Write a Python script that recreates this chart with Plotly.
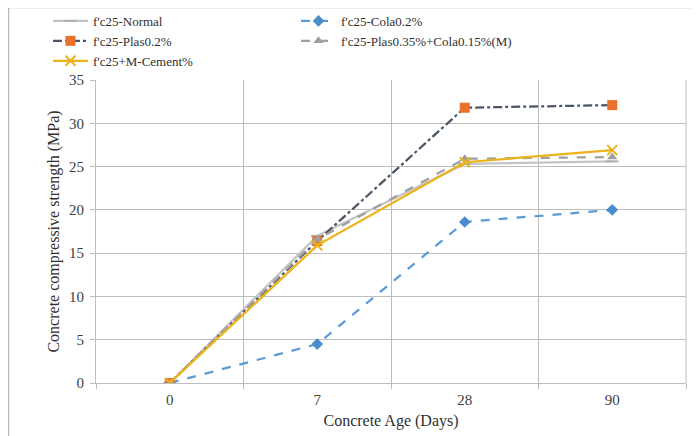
import plotly.graph_objects as go

ages = ["0", "7", "28", "90"]
normal = [0, 17.0, 25.3, 25.6]
cola = [0, 4.5, 18.6, 20.0]
plas = [0, 16.4, 31.8, 32.1]
plas_cola = [0, 16.6, 25.9, 26.1]
m_cement = [0, 15.9, 25.5, 26.9]

names = ["f'c25-Normal", "f'c25-Cola0.2%", "f'c25-Plas0.2%",
         "f'c25-Plas0.35%+Cola0.15%(M)", "f'c25+M-Cement%"]

fig = go.Figure()
fig.add_trace(go.Scatter(x=ages, y=normal, name=names[0], mode="lines+markers",
                         line=dict(color="#c4c4c4", width=2.25),
                         marker=dict(symbol="line-ew-open", size=9, color="#b0b0b0",
                                     line=dict(color="#b0b0b0", width=2))))
fig.add_trace(go.Scatter(x=ages, y=cola, name=names[1], mode="lines+markers",
                         line=dict(color="#5b9bd5", width=2.25, dash="dash"),
                         marker=dict(symbol="diamond", size=9, color="#4a8ccc")))
fig.add_trace(go.Scatter(x=ages, y=plas, name=names[2], mode="lines+markers",
                         line=dict(color="#4a5568", width=2.25, dash="dashdot"),
                         marker=dict(symbol="square", size=10, color="#e8722c")))
fig.add_trace(go.Scatter(x=ages, y=plas_cola, name=names[3], mode="lines+markers",
                         line=dict(color="#a0a0a0", width=2.25, dash="dash"),
                         marker=dict(symbol="triangle-up", size=9, color="#a0a0a0")))
fig.add_trace(go.Scatter(x=ages, y=m_cement, name=names[4], mode="lines+markers",
                         line=dict(color="#ecb21a", width=2.25),
                         marker=dict(symbol="x-thin-open", size=10,
                                     line=dict(color="#ecb21a", width=2))))

# page body has an 8px margin, so the figure is drawn 8px smaller and offset
OFF = 8
W, H = 699 - OFF, 436 - OFF
L, R, T, B = 96 - OFF, 13, 80 - OFF, 53
pw, ph = W - L - R, H - T - B

def px(x):
    return (x - OFF - L) / pw

def py(y):
    return (H - B - (y - OFF)) / ph

fig.update_layout(
    width=W, height=H,
    margin=dict(l=L, r=R, t=T, b=B, autoexpand=False),
    paper_bgcolor="white", plot_bgcolor="white",
    font=dict(family="Liberation Serif", size=13, color="#404040"),
    showlegend=True,
    legend=dict(orientation="h", x=px(48), y=py(6), xanchor="left", yanchor="top",
                entrywidth=198, entrywidthmode="pixels", itemwidth=35,
                font=dict(family="Liberation Serif", size=13, color="#303030"),
                bgcolor="rgba(0,0,0,0)", tracegroupgap=0),
    xaxis=dict(type="category", range=[-0.5, 3.5], tickson="boundaries", showgrid=True,
               gridcolor="#bdbdbd", gridwidth=1, showline=True, linecolor="#bdbdbd",
               linewidth=1, ticks="outside", ticklen=5, tickcolor="#bdbdbd",
               ticklabelstandoff=3,
               tickfont=dict(size=15, color="#404040"), mirror=False,
               title=dict(text="Concrete Age (Days)", font=dict(size=16, color="#303030"),
                          standoff=7)),
    yaxis=dict(range=[0, 35], dtick=5, showgrid=True, gridcolor="#bdbdbd", gridwidth=1,
               showline=True, linecolor="#bdbdbd", linewidth=1, ticks="outside",
               ticklen=5, tickcolor="#bdbdbd", zeroline=False, ticklabelstandoff=3,
               tickfont=dict(size=15, color="#404040"),
               title=dict(text="Concrete compressive strength (MPa)",
                          font=dict(size=16, color="#303030"), standoff=5)),
    shapes=[dict(type="line", xref="paper", yref="paper", x0=1, x1=1, y0=0, y1=1,
                 line=dict(color="#bdbdbd", width=1)),
            dict(type="rect", xref="paper", yref="paper", x0=px(8.5), x1=px(720),
                 y0=py(460), y1=py(7.5), line=dict(color="#b8b8b8", width=1.5),
                 layer="above")],
)

fig.write_html("out.html")
